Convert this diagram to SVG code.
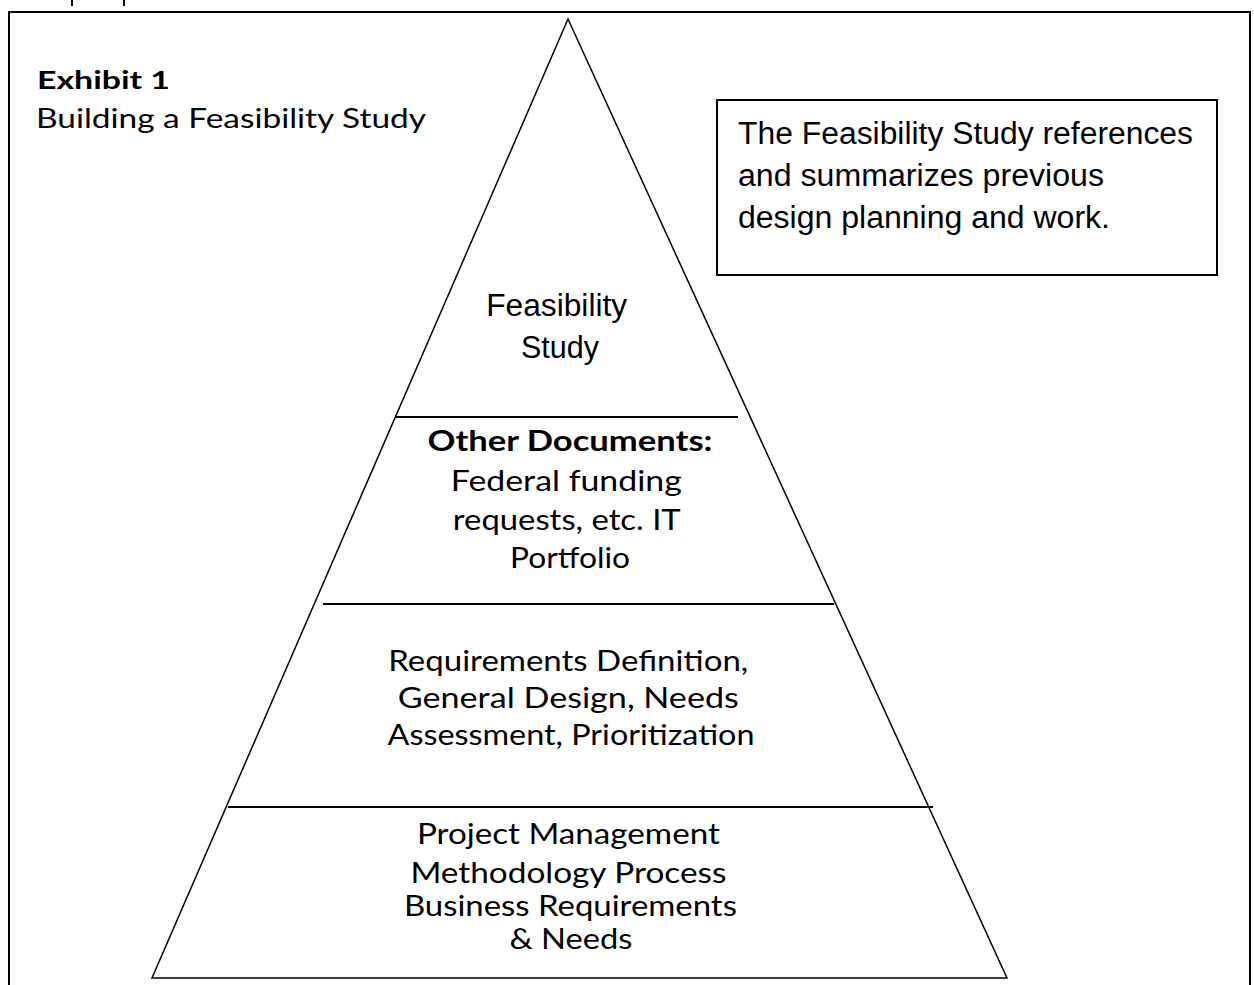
<svg xmlns="http://www.w3.org/2000/svg" width="1254" height="985" viewBox="0 0 1254 985">
<style>
.ln{stroke:#000;stroke-width:2;fill:none}
.tl{stroke:#000;stroke-width:1.5;fill:none}
.av{font-family:Lato,"Open Sans","Noto Sans",sans-serif;fill:#000}
.ar{font-family:"Liberation Sans",Arial,sans-serif;fill:#000}
</style>
<rect width="1254" height="985" fill="#fff"/>
<g id="frame">
<path class="ln" d="M9,985 V12 H1250 V985"/>
<path class="ln" d="M72,0 V6 M124,0 V6"/>
</g>
<g id="title">
<text class="av" x="37" y="89" font-size="25" font-weight="bold" textLength="133" lengthAdjust="spacingAndGlyphs">Exhibit 1</text>
<text class="av" x="36" y="128" font-size="26" textLength="390" lengthAdjust="spacingAndGlyphs">Building a Feasibility Study</text>
</g>
<g id="pyramid">
<polygon class="tl" points="568,19 1007,978 152,978"/>
</g>
<g id="connectors">
<line class="ln" x1="396" y1="417" x2="738" y2="417"/>
<line class="ln" x1="323" y1="604" x2="834" y2="604"/>
<line class="ln" x1="228" y1="807" x2="933" y2="807"/>
</g>
<g id="callout">
<rect class="ln" x="717" y="100" width="500" height="175"/>
<text class="ar" font-size="31">
<tspan x="738" y="144" textLength="455" lengthAdjust="spacingAndGlyphs">The Feasibility Study references</tspan>
<tspan x="738" y="186" textLength="366" lengthAdjust="spacingAndGlyphs">and summarizes previous</tspan>
<tspan x="738" y="228" textLength="372" lengthAdjust="spacingAndGlyphs">design planning and work.</tspan>
</text>
</g>
<g id="level1">
<text class="ar" font-size="31" text-anchor="middle">
<tspan x="561" y="316" textLength="141" lengthAdjust="spacingAndGlyphs">Feasibility</tspan>
<tspan x="560" y="358" textLength="78" lengthAdjust="spacingAndGlyphs">Study</tspan>
</text>
</g>
<g id="level2">
<text class="av" x="570" y="451" font-size="29" font-weight="bold" text-anchor="middle" textLength="285" lengthAdjust="spacingAndGlyphs">Other Documents:</text>
<text class="av" font-size="29" text-anchor="middle">
<tspan x="570" y="491" textLength="231" lengthAdjust="spacingAndGlyphs">Federal funding</tspan>
<tspan x="570" y="530" textLength="227" lengthAdjust="spacingAndGlyphs">requests, etc. IT</tspan>
<tspan x="570" y="568" textLength="120" lengthAdjust="spacingAndGlyphs">Portfolio</tspan>
</text>
</g>
<g id="level3">
<text class="av" font-size="29" text-anchor="middle">
<tspan x="572" y="671" textLength="360" lengthAdjust="spacingAndGlyphs">Requirements Definition,</tspan>
<tspan x="572" y="708" textLength="341" lengthAdjust="spacingAndGlyphs">General Design, Needs</tspan>
<tspan x="571" y="745" textLength="367" lengthAdjust="spacingAndGlyphs">Assessment, Prioritization</tspan>
</text>
</g>
<g id="level4">
<text class="av" font-size="28" text-anchor="middle">
<tspan x="572" y="844" textLength="303" lengthAdjust="spacingAndGlyphs">Project Management</tspan>
<tspan x="572" y="883" textLength="316" lengthAdjust="spacingAndGlyphs">Methodology Process</tspan>
<tspan x="574" y="916" textLength="333" lengthAdjust="spacingAndGlyphs">Business Requirements</tspan>
<tspan x="571" y="949" textLength="123" lengthAdjust="spacingAndGlyphs">&amp; Needs</tspan>
</text>
</g>
</svg>
